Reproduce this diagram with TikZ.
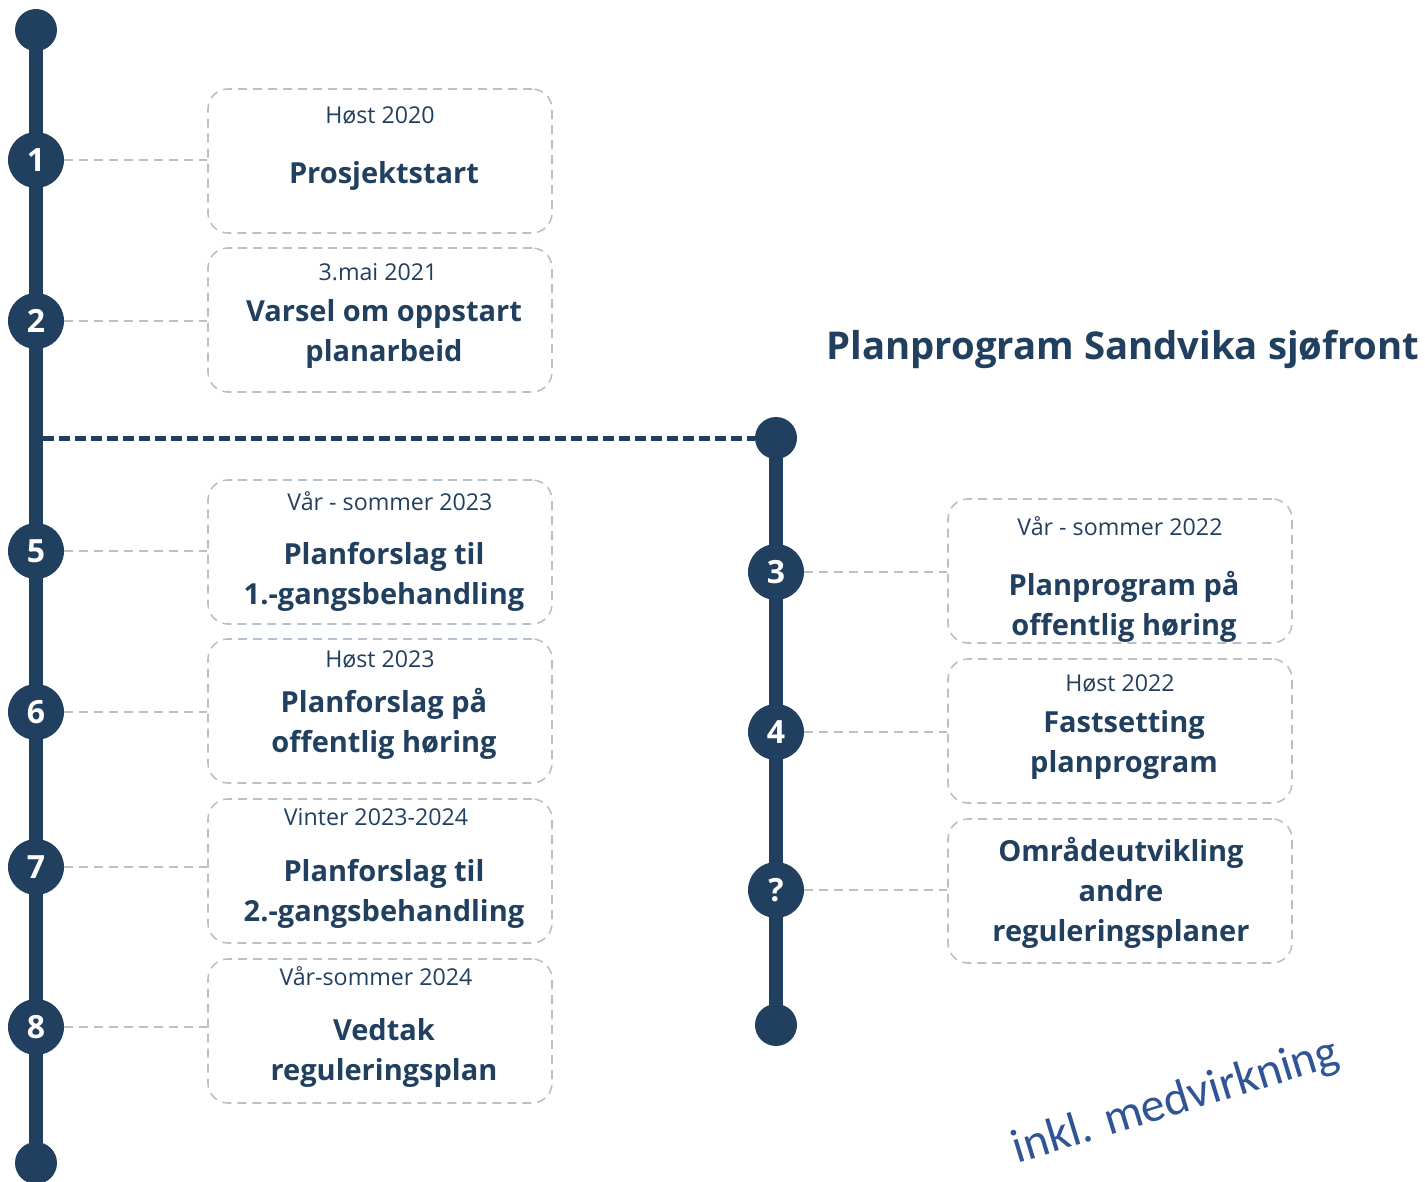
\documentclass[tikz,border=0pt]{standalone}
\usepackage{fontspec}
\setmainfont{Open Sans}
\newfontfamily\calibri{Carlito}
\usepackage{tikz}
\usetikzlibrary{positioning}
\usetikzlibrary{backgrounds}
\definecolor{navy}{HTML}{213F5E}
\definecolor{dashgray}{HTML}{B7C1CB}
\definecolor{wordblue}{HTML}{2F5597}

\tikzset{
	stepdot/.style={circle, fill=navy, minimum size=56pt, inner sep=0pt, text=white, font=\fontsize{32}{32}\selectfont\bfseries},
	enddot/.style={circle, fill=navy, minimum size=42pt, inner sep=0pt},
	phasebox/.style={draw=dashgray, line width=1.6pt, dash pattern=on 9pt off 6pt, rounded corners=20pt, minimum width=344pt, minimum height=144pt, inner sep=0pt},
	link/.style={draw=dashgray, line width=1.6pt, dash pattern=on 9pt off 6pt},
	datetext/.style={text=navy, font=\fontsize{23.2}{23}\selectfont},
	phasetext/.style={text=navy, align=center, font=\fontsize{29}{40}\selectfont\bfseries},
	trackline/.style={draw=navy, line width=14pt},
}

\begin{document}
\begin{tikzpicture}[x=1pt, y=-1pt]
	\useasboundingbox (0,0) rectangle (1425,1182);
	% left track
	\node[enddot] (ltop) at (36,30) {};
	\node[enddot] (lbot) at (36,1163) {};
	\node[stepdot] (s1) at (36,160) {1};
	\node[stepdot] (s2) at (36,321) {2};
	\node[stepdot] (s5) at (36,551) {5};
	\node[stepdot] (s6) at (36,712) {6};
	\node[stepdot] (s7) at (36,867) {7};
	\node[stepdot] (s8) at (36,1027) {8};
	% right track
	\node[enddot] (rtop) at (776,438) {};
	\node[enddot] (rbot) at (776,1025) {};
	\node[stepdot] (s3) at (776,572) {3};
	\node[stepdot] (s4) at (776,732) {4};
	\node[stepdot] (sq) at (776,890) {?};
	\begin{scope}[on background layer]
		\draw[trackline] (ltop.center) -- (lbot.center);
		\draw[trackline] (rtop.center) -- (rbot.center);
	\end{scope}
	\coordinate (branch) at (43,438);
	\draw[navy, line width=5pt, dash pattern=on 11pt off 5pt] (branch) -- (rtop);

	% boxes
	\node[phasebox] (b1) at (380,161) {};
	\node[phasebox] (b2) at (380,320) {};
	\node[phasebox] (b5) at (380,552) {};
	\node[phasebox] (b6) at (380,711) {};
	\node[phasebox] (b7) at (380,871) {};
	\node[phasebox] (b8) at (380,1031) {};
	\node[phasebox] (b3) at (1120,571) {};
	\node[phasebox] (b4) at (1120,731) {};
	\node[phasebox] (bq) at (1120,891) {};
	\foreach \s/\b in {1/1, 2/2, 5/5, 6/6, 7/7, 8/8, 3/3, 4/4, q/q}
		\draw[link] (s\s) -- (s\s -| b\b.west);

	% box texts
	\node[datetext] (d1) at (380,115) {Høst 2020};
	\node[phasetext] (t1) at (384,176) {Prosjektstart};
	\node[datetext] (d2) at (378,272) {3.mai 2021};
	\node[phasetext] (t2) at (384,334) {Varsel om oppstart\\planarbeid};
	\node[datetext] (d5) at (390,501) {Vår - sommer 2023};
	\node[phasetext] (t5) at (384,577) {Planforslag til\\1.-gangsbehandling};
	\node[datetext] (d6) at (380,659) {Høst 2023};
	\node[phasetext] (t6) at (384,724) {Planforslag på\\offentlig høring};
	\node[datetext] (d7) at (376,817) {Vinter 2023-2024};
	\node[phasetext] (t7) at (384,894) {Planforslag til\\2.-gangsbehandling};
	\node[datetext] (d8) at (376,976) {Vår-sommer 2024};
	\node[phasetext] (t8) at (384,1053) {Vedtak\\reguleringsplan};
	\node[datetext] (d3) at (1120,526) {Vår - sommer 2022};
	\node[phasetext] (t3) at (1124,607) {Planprogram på\\offentlig høring};
	\node[datetext] (d4) at (1120,683) {Høst 2022};
	\node[phasetext] (t4) at (1124,745) {Fastsetting\\planprogram};
	\node[phasetext] (tq) at (1121,893) {Områdeutvikling\\andre\\reguleringsplaner};

	\node[text=navy, font=\fontsize{38.3}{38}\selectfont\bfseries] (title) at (1123,349) {Planprogram Sandvika sjøfront};
	\node[text=wordblue, rotate=17, font=\calibri\fontsize{48}{48}\selectfont] (note) at (1176,1102) {inkl. medvirkning};
\end{tikzpicture}
\end{document}
